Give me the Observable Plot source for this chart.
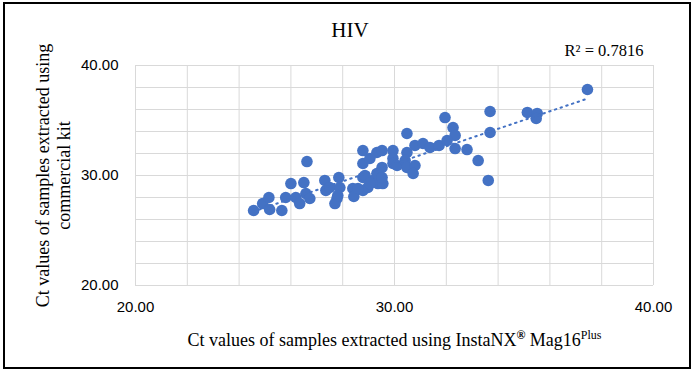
<!DOCTYPE html>
<html><head><meta charset="utf-8">
<script src="https://cdn.jsdelivr.net/npm/d3@7"></script>
<script src="https://cdn.jsdelivr.net/npm/@observablehq/plot@0.6"></script>
<style>
body{margin:0;background:#fff}
#wrap{position:relative;width:694px;height:371px;overflow:hidden}
#wrap svg{position:absolute;left:0;top:0}
#frame{position:absolute;left:3px;top:2px;width:684px;height:363px;border:2px solid #000;pointer-events:none}
</style></head><body>
<div id="wrap"><div id="frame"></div></div>
<script>
// Ct values, InstaNX Mag16Plus (x) vs commercial kit (y)
const ctInstaNX = [24.56,24.91,25.15,25.18,25.65,25.80,26.00,26.19,26.34,26.50,26.58,26.73,26.62,27.31,27.35,27.50,27.78,27.70,27.85,27.89,27.81,28.39,28.43,28.78,28.78,28.78,28.78,28.97,29.17,29.32,29.32,29.36,29.05,29.52,29.55,28.86,29.94,29.94,29.94,30.10,30.48,30.48,30.41,30.48,30.79,30.79,30.72,31.10,31.37,31.72,31.95,32.26,32.34,32.03,32.34,32.80,33.23,33.62,33.69,33.69,35.13,35.51,35.47,37.45,29.52,29.52,29.05,28.59];
const ctCommercial = [26.82,27.45,28.00,26.91,26.82,28.00,29.27,28.00,27.45,29.36,28.36,27.91,31.27,29.55,28.64,28.91,27.91,27.45,29.82,28.91,28.18,28.82,28.09,32.27,31.09,29.82,28.64,28.91,29.55,32.09,30.18,29.27,31.55,30.73,29.27,30.00,32.27,31.55,31.09,30.91,33.82,32.09,31.36,30.73,32.73,30.91,30.18,32.91,32.55,32.73,35.27,34.36,33.64,33.18,32.45,32.36,31.36,29.55,35.82,33.91,35.73,35.64,35.18,37.82,32.27,29.82,29.27,28.82];
const xTicks = [20, 30, 40];
const yTicks = [20, 30, 40];
const gridValues = [20,22,24,26,28,30,32,34,36,38,40];
const chartTitle = "HIV";
const r2Label = "R² = 0.7816";
const yLabel = "Ct values of samples extracted using\ncommercial kit";
const xLabel = "Ct values of samples extracted using InstaNX® Mag16Plus";

const data = ctInstaNX.map((x, i) => ({x, y: ctCommercial[i]}));
const blue = "#4472C4";
const serif = "Liberation Serif, Times New Roman, serif";
const sans = "Liberation Sans, Arial, sans-serif";

const chart = Plot.plot({
  width: 694, height: 371,
  marginLeft: 135, marginRight: 41, marginTop: 65, marginBottom: 86,
  style: {fontFamily: sans, fontSize: "15px", background: "transparent", color: "#000"},
  x: {domain: [20, 40]},
  y: {domain: [20, 40]},
  marks: [
    Plot.gridX(gridValues, {stroke: "#d9d9d9", strokeOpacity: 1, strokeWidth: 1}),
    Plot.gridY(gridValues, {stroke: "#d9d9d9", strokeOpacity: 1, strokeWidth: 1}),
    Plot.axisX(xTicks, {tickSize: 0, tickPadding: 16, tickFormat: d3.format(".2f"), label: null, fontSize: 15, fontFamily: sans}),
    Plot.axisY(yTicks, {tickSize: 0, tickPadding: 17, tickFormat: d3.format(".2f"), label: null, fontSize: 15, fontFamily: sans}),
    Plot.dot(data, {x: "x", y: "y", r: 5.8, fill: blue, stroke: "none"}),
    Plot.linearRegressionY(data, {x: "x", y: "y", stroke: blue, strokeWidth: 2, strokeDasharray: "1.5,4.5", ci: 0}),
    Plot.text([chartTitle], {frameAnchor: "top", dx: -44.5, dy: -35, fontSize: 21, fontFamily: serif, lineAnchor: "middle"}),
    Plot.text([r2Label], {frameAnchor: "top-right", dx: -10, dy: -15, fontSize: 16.5, fontFamily: serif, lineAnchor: "middle", textAnchor: "end"}),
    Plot.text([yLabel], {frameAnchor: "left", dx: -82.5, rotate: -90, fontSize: 18, fontFamily: serif, lineHeight: 1.17, lineAnchor: "middle", textAnchor: "middle"}),
    Plot.text([xLabel], {frameAnchor: "bottom", dy: 55, fontSize: 18, fontFamily: serif, lineAnchor: "middle", textAnchor: "middle", className: "xlab"})
  ]
});
document.getElementById("wrap").prepend(chart);

// superscripts on x-axis label
const t = chart.querySelector(".xlab text");
if (t) {
  const ns = "http://www.w3.org/2000/svg";
  t.textContent = "";
  const parts = [["Ct values of samples extracted using InstaNX", false], ["®", true], [" Mag16", false], ["Plus", true]];
  for (const [s, sup] of parts) {
    const sp = document.createElementNS(ns, "tspan");
    sp.textContent = s;
    if (sup) { sp.setAttribute("baseline-shift", "super"); sp.setAttribute("font-size", "12"); if (s === "®") sp.setAttribute("font-weight", "bold"); }
    t.appendChild(sp);
  }
}
</script>
</body></html>
